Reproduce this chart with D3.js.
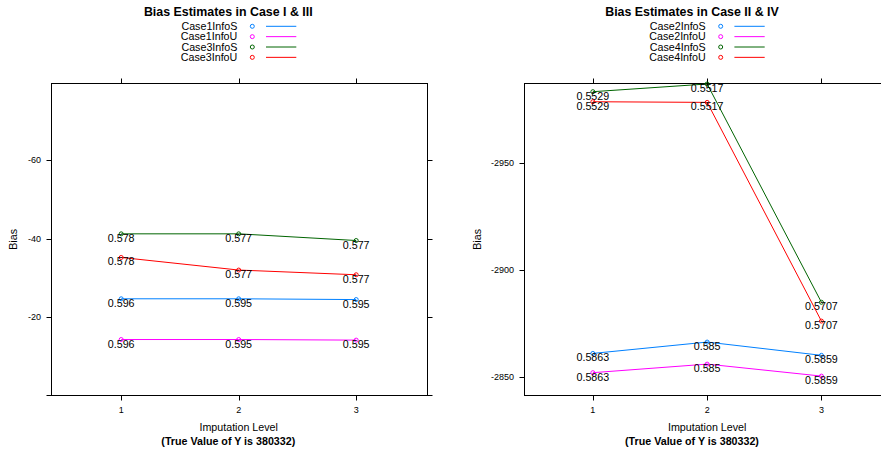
<!DOCTYPE html>
<html><head><meta charset="utf-8">
<script src="https://cdn.jsdelivr.net/npm/d3@7"></script>
<style>body{margin:0;background:#fff}svg{display:block}text{font-family:"Liberation Sans",Arial,Helvetica,sans-serif}</style>
</head><body><svg id="c" width="881" height="451"></svg>
<script>
const levels = [1, 2, 3];
const colors = ["#0080ff", "#ff00ff", "#006400", "#ff0000"];

// Left panel
const leftTitle = "Bias Estimates in Case I & III";
const leftSeries = ["Case1InfoS", "Case1InfoU", "Case3InfoS", "Case3InfoU"];
const case1InfoS = [-24.7, -24.7, -24.5];
const case1InfoU = [-14.35, -14.35, -14.2];
const case3InfoS = [-41.2, -41.2, -39.5];
const case3InfoU = [-35.2, -32.0, -30.8];
const leftLabels = [["0.596","0.595","0.595"],["0.596","0.595","0.595"],["0.578","0.577","0.577"],["0.578","0.577","0.577"]];
const leftTicks = [0, -20, -40, -60];
const leftLimits = [0, -79.6];

// Right panel
const rightTitle = "Bias Estimates in Case II & IV";
const rightSeries = ["Case2InfoS", "Case2InfoU", "Case4InfoS", "Case4InfoU"];
const case2InfoS = [-2860.9, -2866.2, -2860.0];
const case2InfoU = [-2851.9, -2855.9, -2850.3];
const case4InfoS = [-2983.2, -2986.8, -2884.8];
const case4InfoU = [-2978.5, -2978.2, -2876.0];
const rightLabels = [["0.5863","0.585","0.5859"],["0.5863","0.585","0.5859"],["0.5529","0.5517","0.5707"],["0.5529","0.5517","0.5707"]];
const rightTicks = [-2850, -2900, -2950];
const rightLimits = [-2841, -2987.4];

const xLabel = "Imputation Level";
const subLabel = "(True Value of Y is 380332)";
const yLabel = "Bias";

const svg = d3.select("#c");

function panel(cfg) {
  const g = svg.append("g");
  const x = d3.scaleLinear().domain([0.4, 3.6]).range([cfg.left, cfg.right]);
  const y = d3.scaleLinear().domain(cfg.limits).range([396, 82.7]);
  const X = v => Math.round(x(v)) + 0.5;
  const Y = v => Math.round(y(v)) + 0.5;
  // title
  g.append("text").attr("x", cfg.titleX).attr("y", 15.7).attr("text-anchor", "middle")
    .attr("font-size", 12.4).attr("font-weight", "bold").text(cfg.title);
  // legend
  cfg.series.forEach((s, i) => {
    const cy = 26.3 + i * 10.35;
    g.append("text").attr("x", cfg.legendX).attr("y", cy + 3.8).attr("text-anchor", "end")
      .attr("font-size", 10.7).attr("fill", "#000").text(s);
    g.append("circle").attr("cx", cfg.legendX + 15).attr("cy", cy).attr("r", 2)
      .attr("fill", "none").attr("stroke", colors[i]).attr("stroke-width", 1);
    g.append("line").attr("x1", cfg.legendX + 28.7).attr("x2", cfg.legendX + 59)
      .attr("y1", cy).attr("y2", cy).attr("stroke", colors[i]).attr("stroke-width", 1);
  });
  const L = Math.round(x(0.4)) + 0.5, R = Math.round(x(3.6)) + 0.5;
  const T = Math.round(y(cfg.limits[1])) + 0.5, B = Math.round(y(cfg.limits[0])) - 0.5;
  // border
  g.append("rect").attr("x", L).attr("y", T).attr("width", R - L).attr("height", B - T)
    .attr("fill", "none").attr("stroke", "#000").attr("stroke-width", 1);
  // x ticks
  levels.forEach(v => {
    g.append("line").attr("x1", X(v)).attr("x2", X(v)).attr("y1", B).attr("y2", B + 5).attr("stroke", "#000");
    g.append("line").attr("x1", X(v)).attr("x2", X(v)).attr("y1", T).attr("y2", T - 5).attr("stroke", "#000");
    g.append("text").attr("x", x(v)).attr("y", 413.2).attr("text-anchor", "middle").attr("font-size", 9).text(v);
  });
  // y ticks
  cfg.ticks.forEach(v => {
    const yy = v === cfg.limits[0] ? B : Y(v);
    g.append("line").attr("x1", L).attr("x2", L - 5).attr("y1", yy).attr("y2", yy).attr("stroke", "#000");
    g.append("line").attr("x1", R).attr("x2", R + 5).attr("y1", yy).attr("y2", yy).attr("stroke", "#000");
    if (v !== 0) g.append("text").attr("x", L - 10.5).attr("y", y(v) + 3.2).attr("text-anchor", "end")
      .attr("font-size", 9).text(v);
  });
  // axis labels
  g.append("text").attr("x", (x(0.4) + x(3.6)) / 2).attr("y", 431.2).attr("text-anchor", "middle")
    .attr("font-size", 10.7).text(xLabel);
  g.append("text").attr("x", cfg.titleX).attr("y", 445.2).attr("text-anchor", "middle")
    .attr("font-size", 10.7).attr("font-weight", "bold").text(subLabel);
  g.append("text").attr("transform", `translate(${cfg.yLabX + 3.8},239.4) rotate(-90)`)
    .attr("text-anchor", "middle").attr("font-size", 10.7).text(yLabel);
  // data
  const line = d3.line().x((d, i) => x(levels[i])).y(d => y(d));
  cfg.values.forEach((vals, k) => {
    g.append("path").attr("d", line(vals)).attr("fill", "none").attr("stroke", colors[k]).attr("stroke-width", 1);
    vals.forEach((v, i) => {
      g.append("circle").attr("cx", x(levels[i])).attr("cy", y(v)).attr("r", 2)
        .attr("fill", "none").attr("stroke", colors[k]).attr("stroke-width", 1);
    });
    vals.forEach((v, i) => {
      g.append("text").attr("x", x(levels[i])).attr("y", y(v) + 8).attr("text-anchor", "middle")
        .attr("font-size", 10.7).attr("fill", "#000").text(cfg.labels[k][i]);
    });
  });
}

panel({ left: 50.7, right: 426.7, limits: leftLimits, ticks: leftTicks, title: leftTitle, titleX: 228.3,
  series: leftSeries, legendX: 237.3, yLabX: 13.3,
  values: [case1InfoS, case1InfoU, case3InfoS, case3InfoU], labels: leftLabels });
panel({ left: 524.3, right: 890, limits: rightLimits, ticks: rightTicks, title: rightTitle, titleX: 692,
  series: rightSeries, legendX: 705.7, yLabX: 476.7,
  values: [case2InfoS, case2InfoU, case4InfoS, case4InfoU], labels: rightLabels });
</script></body></html>
